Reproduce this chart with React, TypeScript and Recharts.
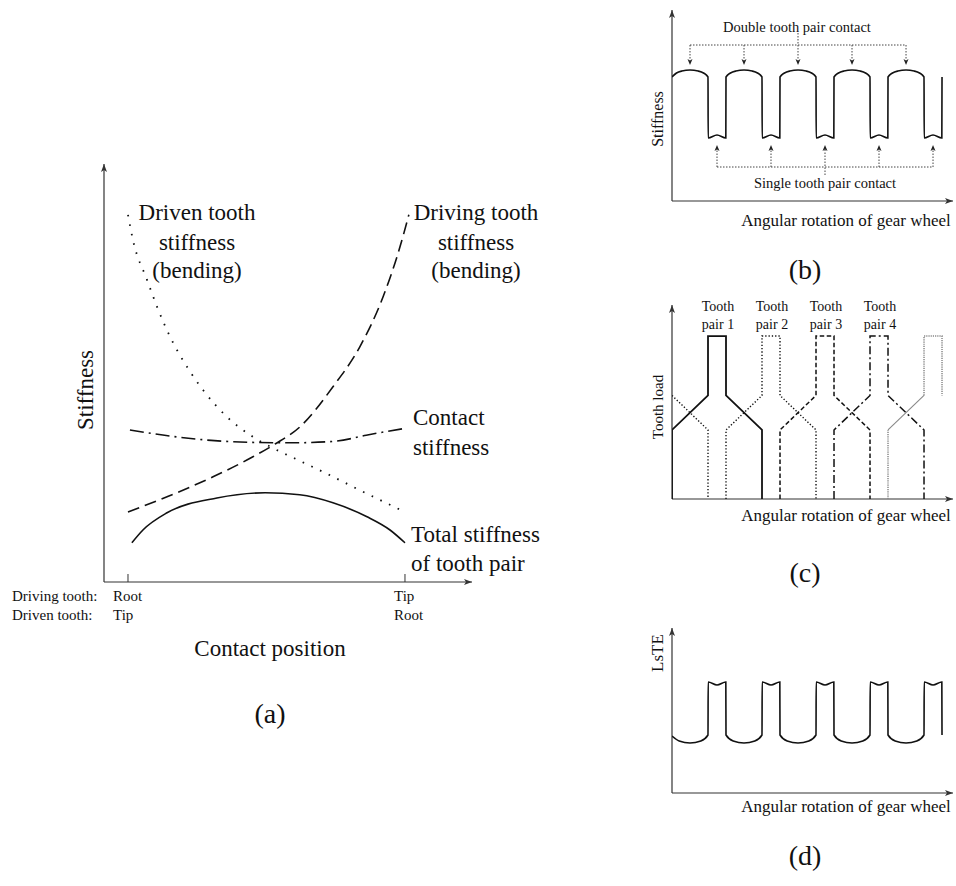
import React from "react";
import { LineChart, Line, XAxis, YAxis, ReferenceLine, ReferenceDot } from "recharts";

const SERIF = '"Liberation Serif", "Times New Roman", serif';
const INK = "#111";
const AXIS = "#333";

// (a) stiffness vs contact position (0 = driving root, 10 = driving tip)
const drivenX = [0, 0.18, 0.69, 1.05, 1.52, 2.13, 2.71, 3.57, 4.51, 5.23, 6.2, 7.2, 8.27, 10];
const drivenY = [9.18, 8.55, 7.55, 6.88, 6.13, 5.38, 4.8, 4.13, 3.63, 3.35, 3.03, 2.7, 2.33, 1.75];
const drivingX = [0, 1.41, 3.07, 4.51, 5.31, 6.21, 7.4, 8.37, 9.21, 9.82, 10.14];
const drivingY = [1.75, 2.13, 2.63, 3.13, 3.45, 3.88, 4.88, 5.88, 7.13, 8.38, 9.18];
const contactX = [0.07, 1.5, 3.0, 4.5, 6.0, 7.5, 8.6, 10.07];
const contactY = [3.8, 3.65, 3.54, 3.49, 3.48, 3.52, 3.67, 3.85];
const totalX = [0.14, 0.54, 1.41, 3.21, 4.95, 6.2, 7.4, 8.63, 9.46, 10];
const totalY = [0.98, 1.3, 1.73, 2.1, 2.23, 2.18, 1.98, 1.63, 1.3, 0.98];
const contactTicks = [0, 10];

// (b) mesh stiffness over angular rotation
const meshT = [
  0, 0.25, 0.55, 1, 1.45, 1.75, 2, 2.01, 2.5, 2.99,
  3, 3.25, 3.55, 4, 4.45, 4.75, 5, 5.01, 5.5, 5.99,
  6, 6.25, 6.55, 7, 7.45, 7.75, 8, 8.01, 8.5, 8.99,
  9, 9.25, 9.55, 10, 10.45, 10.75, 11, 11.01, 11.5, 11.99,
  12, 12.25, 12.55, 13, 13.45, 13.75, 14, 14.01, 14.5, 14.99, 15,
];
const meshStiffness = [
  6.2, 6.4, 6.5, 6.55, 6.5, 6.4, 6.2, 3.15, 3.3, 3.15,
  6.2, 6.4, 6.5, 6.55, 6.5, 6.4, 6.2, 3.15, 3.3, 3.15,
  6.2, 6.4, 6.5, 6.55, 6.5, 6.4, 6.2, 3.15, 3.3, 3.15,
  6.2, 6.4, 6.5, 6.55, 6.5, 6.4, 6.2, 3.15, 3.3, 3.15,
  6.2, 6.4, 6.5, 6.55, 6.5, 6.4, 6.2, 3.15, 3.3, 3.15, 6.2,
];
const doublePeaks = [1, 4, 7, 10, 13];
const singleMids = [2.5, 5.5, 8.5, 11.5, 14.5];

// (c) tooth load per tooth pair
const pair0T = [0, 2, 2];
const pair0Load = [3, 2, 0];
const pair1T = [0, 0, 2, 2, 3, 3, 5, 5];
const pair2T = [3, 3, 5, 5, 6, 6, 8, 8];
const pair3T = [6, 6, 8, 8, 9, 9, 11, 11];
const pair4T = [9, 9, 11, 11, 12, 12, 14, 14];
const pairLoad = [0, 2, 3, 4.72, 4.72, 3, 2, 0];
const pair5T = [12, 12, 13, 14, 14, 15, 15];
const pair5Load = [0, 2, null, 3, 4.72, 4.72, 3];
const pair5RampT = [12, 14];
const pair5RampLoad = [2, 3];
const pairNames = ["pair 1", "pair 2", "pair 3", "pair 4"];

// (d) loaded static transmission error
const lsteT = [
  0, 0.4, 1, 1.6, 2, 2.01, 2.5, 2.99,
  3, 3.4, 4, 4.6, 5, 5.01, 5.5, 5.99,
  6, 6.4, 7, 7.6, 8, 8.01, 8.5, 8.99,
  9, 9.4, 10, 10.6, 11, 11.01, 11.5, 11.99,
  12, 12.4, 13, 13.6, 14, 14.01, 14.5, 14.99, 15,
];
const lsteValues = [
  2.85, 2.6, 2.5, 2.6, 2.9, 5.55, 5.4, 5.55,
  2.9, 2.6, 2.5, 2.6, 2.9, 5.55, 5.4, 5.55,
  2.9, 2.6, 2.5, 2.6, 2.9, 5.55, 5.4, 5.55,
  2.9, 2.6, 2.5, 2.6, 2.9, 5.55, 5.4, 5.55,
  2.9, 2.6, 2.5, 2.6, 2.9, 5.55, 5.4, 5.55, 2.9,
];

const pts = (xs: number[], ys: (number | null)[]) => xs.map((x, i) => ({ x, y: ys[i] }));

const arrow =
  (dir: "up" | "down" | "right", len = 8, half = 3, color = AXIS) =>
  (p: any) => {
    const { cx, cy } = p;
    const q =
      dir === "up"
        ? [[cx, cy], [cx - half, cy + len], [cx, cy + len * 0.75], [cx + half, cy + len]]
        : dir === "down"
        ? [[cx, cy], [cx - half, cy - len], [cx, cy - len * 0.75], [cx + half, cy - len]]
        : [[cx, cy], [cx - len, cy - half], [cx - len * 0.75, cy], [cx - len, cy + half]];
    return <path d={`M${q.map((v) => v.join(",")).join("L")}Z`} fill={color} stroke="none" />;
  };

function Txt({
  x,
  y,
  size,
  children,
  align = "center",
  rotate = false,
}: {
  x: number;
  y: number;
  size: number;
  children: React.ReactNode;
  align?: "left" | "center";
  rotate?: boolean;
}) {
  const tx = align === "center" ? "-50%" : "0";
  return (
    <div
      style={{
        position: "absolute",
        left: x,
        top: y,
        fontFamily: SERIF,
        fontSize: size,
        lineHeight: 1,
        whiteSpace: "nowrap",
        color: INK,
        transform: `translate(${tx}, -50%)${rotate ? " rotate(-90deg)" : ""}`,
      }}
    >
      {children}
    </div>
  );
}

function Axes({ xMax, yMax }: { xMax: number; yMax: number }) {
  return null;
}

const axisLines = (xMin: number, xMax: number, yMax: number) => [
  <ReferenceLine
    key="ax"
    segment={[{ x: xMin, y: 0 }, { x: xMax, y: 0 }]}
    stroke={AXIS}
    strokeWidth={1.2}
    ifOverflow="visible"
  />,
  <ReferenceLine
    key="ay"
    segment={[{ x: xMin, y: 0 }, { x: xMin, y: yMax }]}
    stroke={AXIS}
    strokeWidth={1.2}
    ifOverflow="visible"
  />,
  <ReferenceDot key="hx" x={xMax} y={0} r={0} shape={arrow("right")} ifOverflow="visible" />,
  <ReferenceDot key="hy" x={xMin} y={yMax} r={0} shape={arrow("up")} ifOverflow="visible" />,
];

const RIGHT_MARGIN = { top: 10, right: 3, bottom: 20, left: 20 };

export default function App() {
  const aXMin = -0.866;
  const aXMax = 12.42;
  const aYMax = 10.45;
  const tMax = 15.61;

  return (
    <div style={{ position: "fixed", left: 0, top: 0, width: 956, height: 886, background: "#fff" }}>
      {/* (a) */}
      <div style={{ position: "absolute", left: 84, top: 144 }}>
        <LineChart width={408} height={458} margin={{ top: 20, right: 20, bottom: 20, left: 20 }}>
          <XAxis type="number" dataKey="x" domain={[aXMin, aXMax]} hide allowDataOverflow />
          <YAxis type="number" domain={[0, aYMax]} hide allowDataOverflow />
          {axisLines(aXMin, aXMax, aYMax)}
          {contactTicks.map((t) => (
            <ReferenceLine
              key={t}
              segment={[{ x: t, y: 0 }, { x: t, y: 0.2 }]}
              stroke={AXIS}
              strokeWidth={1}
              ifOverflow="visible"
            />
          ))}
          <Line data={pts(drivenX, drivenY)} dataKey="y" type="monotone" stroke={INK} strokeWidth={1.8}
            strokeDasharray="1.6 8" dot={false} activeDot={false} isAnimationActive={false} />
          <Line data={pts(drivingX, drivingY)} dataKey="y" type="monotone" stroke={INK} strokeWidth={1.6}
            strokeDasharray="12 6" dot={false} activeDot={false} isAnimationActive={false} />
          <Line data={pts(contactX, contactY)} dataKey="y" type="monotone" stroke={INK} strokeWidth={1.6}
            strokeDasharray="14 5 2 5" dot={false} activeDot={false} isAnimationActive={false} />
          <Line data={pts(totalX, totalY)} dataKey="y" type="monotone" stroke={INK} strokeWidth={1.6}
            dot={false} activeDot={false} isAnimationActive={false} />
        </LineChart>
      </div>

      {/* (b) */}
      <div style={{ position: "absolute", left: 652, top: 0 }}>
        <LineChart width={304} height={221} margin={RIGHT_MARGIN}>
          <XAxis type="number" dataKey="x" domain={[0, tMax]} hide allowDataOverflow />
          <YAxis type="number" domain={[0, 9.55]} hide allowDataOverflow />
          {axisLines(0, tMax, 9.55)}
          <ReferenceLine segment={[{ x: doublePeaks[0], y: 7.8 }, { x: doublePeaks[4], y: 7.8 }]}
            stroke="#444" strokeWidth={1} strokeDasharray="1.5 1.5" ifOverflow="visible" />
          {doublePeaks.map((t, i) => (
            <ReferenceLine key={`dv${t}`} segment={[{ x: t, y: i === 2 ? 8.4 : 7.8 }, { x: t, y: 7.05 }]}
              stroke="#444" strokeWidth={1} strokeDasharray="1.5 1.5" ifOverflow="visible" />
          ))}
          {doublePeaks.map((t) => (
            <ReferenceDot key={`dh${t}`} x={t} y={6.8} r={0} shape={arrow("down", 6, 2.5, "#222")} ifOverflow="visible" />
          ))}
          <ReferenceLine segment={[{ x: singleMids[0], y: 1.7 }, { x: singleMids[4], y: 1.7 }]}
            stroke="#444" strokeWidth={1} strokeDasharray="1.5 1.5" ifOverflow="visible" />
          {singleMids.map((t, i) => (
            <ReferenceLine key={`sv${t}`} segment={[{ x: t, y: i === 2 ? 1.3 : 1.7 }, { x: t, y: 2.55 }]}
              stroke="#444" strokeWidth={1} strokeDasharray="1.5 1.5" ifOverflow="visible" />
          ))}
          {singleMids.map((t) => (
            <ReferenceDot key={`sh${t}`} x={t} y={2.8} r={0} shape={arrow("up", 6, 2.5, "#222")} ifOverflow="visible" />
          ))}
          <Line data={pts(meshT, meshStiffness)} dataKey="y" type="monotone" stroke={INK} strokeWidth={1.6}
            dot={false} activeDot={false} isAnimationActive={false} />
        </LineChart>
      </div>

      {/* (c) */}
      <div style={{ position: "absolute", left: 652, top: 295 }}>
        <LineChart width={304} height={224} margin={RIGHT_MARGIN}>
          <XAxis type="number" dataKey="x" domain={[0, tMax]} hide allowDataOverflow />
          <YAxis type="number" domain={[0, 5.62]} hide allowDataOverflow />
          {axisLines(0, tMax, 5.62)}
          <Line data={pts(pair0T, pair0Load)} dataKey="y" type="linear" stroke={INK} strokeWidth={1.4}
            strokeDasharray="1.3 2" dot={false} activeDot={false} isAnimationActive={false} />
          <Line data={pts(pair1T, pairLoad)} dataKey="y" type="linear" stroke={INK} strokeWidth={1.8}
            dot={false} activeDot={false} isAnimationActive={false} />
          <Line data={pts(pair2T, pairLoad)} dataKey="y" type="linear" stroke={INK} strokeWidth={1.4}
            strokeDasharray="1.3 2" dot={false} activeDot={false} isAnimationActive={false} />
          <Line data={pts(pair3T, pairLoad)} dataKey="y" type="linear" stroke={INK} strokeWidth={1.5}
            strokeDasharray="4.5 2.5" dot={false} activeDot={false} isAnimationActive={false} />
          <Line data={pts(pair4T, pairLoad)} dataKey="y" type="linear" stroke={INK} strokeWidth={1.5}
            strokeDasharray="8 3 2 3" dot={false} activeDot={false} isAnimationActive={false} />
          <Line data={pts(pair5T, pair5Load)} dataKey="y" type="linear" stroke="#888" strokeWidth={1.5}
            strokeDasharray="1.2 1" connectNulls={false} dot={false} activeDot={false} isAnimationActive={false} />
          <Line data={pts(pair5RampT, pair5RampLoad)} dataKey="y" type="linear" stroke="#888" strokeWidth={1.1}
            dot={false} activeDot={false} isAnimationActive={false} />
        </LineChart>
      </div>

      {/* (d) */}
      <div style={{ position: "absolute", left: 652, top: 618 }}>
        <LineChart width={304} height={195} margin={RIGHT_MARGIN}>
          <XAxis type="number" dataKey="x" domain={[0, tMax]} hide allowDataOverflow />
          <YAxis type="number" domain={[0, 8.25]} hide allowDataOverflow />
          {axisLines(0, tMax, 8.25)}
          <Line data={pts(lsteT, lsteValues)} dataKey="y" type="monotone" stroke={INK} strokeWidth={1.6}
            dot={false} activeDot={false} isAnimationActive={false} />
        </LineChart>
      </div>

      {/* labels (a) */}
      <Txt x={197} y={212} size={23}>Driven tooth</Txt>
      <Txt x={197} y={242} size={23}>stiffness</Txt>
      <Txt x={197} y={270} size={23}>(bending)</Txt>
      <Txt x={476} y={212} size={23}>Driving tooth</Txt>
      <Txt x={476} y={242} size={23}>stiffness</Txt>
      <Txt x={476} y={270} size={23}>(bending)</Txt>
      <Txt x={413} y={417} size={23} align="left">Contact</Txt>
      <Txt x={413} y={447} size={23} align="left">stiffness</Txt>
      <Txt x={411} y={534} size={23} align="left">Total stiffness</Txt>
      <Txt x={411} y={563} size={23} align="left">of tooth pair</Txt>
      <Txt x={85} y={390} size={23} rotate>Stiffness</Txt>
      <Txt x={12} y={596} size={15} align="left">Driving tooth:</Txt>
      <Txt x={12} y={615} size={15} align="left">Driven tooth:</Txt>
      <Txt x={113} y={596} size={15} align="left">Root</Txt>
      <Txt x={113} y={615} size={15} align="left">Tip</Txt>
      <Txt x={394} y={596} size={15} align="left">Tip</Txt>
      <Txt x={394} y={615} size={15} align="left">Root</Txt>
      <Txt x={270} y={648} size={23}>Contact position</Txt>
      <Txt x={270} y={714} size={28}>(a)</Txt>

      {/* labels (b) */}
      <Txt x={797} y={27} size={14.5}>Double tooth pair contact</Txt>
      <Txt x={825} y={183} size={14.5}>Single tooth pair contact</Txt>
      <Txt x={658} y={119} size={16} rotate>Stiffness</Txt>
      <Txt x={846} y={220} size={17}>Angular rotation of gear wheel</Txt>
      <Txt x={805} y={270} size={28}>(b)</Txt>

      {/* labels (c) */}
      {pairNames.map((n, i) => (
        <React.Fragment key={n}>
          <Txt x={718 + i * 54} y={307} size={14}>Tooth</Txt>
          <Txt x={718 + i * 54} y={325} size={14}>{n}</Txt>
        </React.Fragment>
      ))}
      <Txt x={658} y={407} size={15} rotate>Tooth load</Txt>
      <Txt x={846} y={515} size={17}>Angular rotation of gear wheel</Txt>
      <Txt x={805} y={573} size={28}>(c)</Txt>

      {/* labels (d) */}
      <Txt x={657} y={653} size={17} rotate>LsTE</Txt>
      <Txt x={846} y={806} size={17}>Angular rotation of gear wheel</Txt>
      <Txt x={805} y={856} size={28}>(d)</Txt>
    </div>
  );
}
